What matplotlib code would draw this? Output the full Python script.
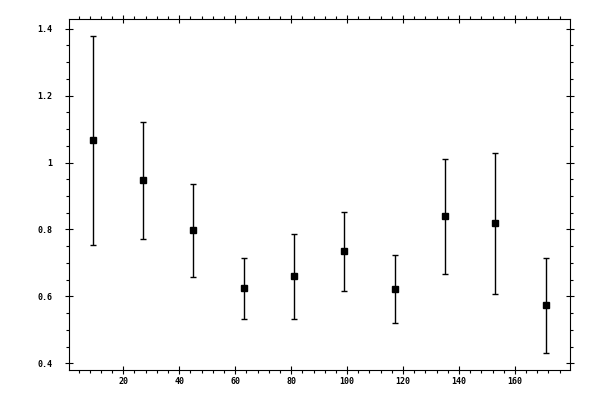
import matplotlib
matplotlib.use("Agg")
import matplotlib.pyplot as plt
from matplotlib.ticker import MultipleLocator, FuncFormatter

x_centers = [9, 27, 45, 63, 81, 99, 117, 135, 153, 171]
y_values = [1.067, 0.947, 0.797, 0.624, 0.660, 0.735, 0.621, 0.839, 0.818, 0.573]
y_errors = [0.312, 0.175, 0.140, 0.092, 0.127, 0.118, 0.102, 0.172, 0.211, 0.141]

fig = plt.figure(figsize=(6, 4), dpi=100)
ax = fig.add_axes([0.1155, 0.075, 0.835, 0.8775])

ax.errorbar(x_centers, y_values, yerr=y_errors, fmt='s', color='black',
            markersize=5, elinewidth=1, capsize=2, capthick=1, ecolor='black')

ax.set_xlim(0.7, 179.8)
ax.set_ylim(0.38, 1.429)

ax.xaxis.set_major_locator(MultipleLocator(20))
ax.xaxis.set_minor_locator(MultipleLocator(4))
ax.yaxis.set_major_locator(MultipleLocator(0.2))
ax.yaxis.set_minor_locator(MultipleLocator(0.05))
ax.yaxis.set_major_formatter(FuncFormatter(lambda v, p: '%g' % round(v, 2)))
ax.xaxis.set_major_formatter(FuncFormatter(lambda v, p: '' if v <= 0 or v >= 180 else '%g' % v))

ax.tick_params(which='major', direction='inout', length=6, width=0.8,
               top=True, right=True, labelsize=6)
ax.tick_params(which='minor', direction='out', length=2.5, width=0.8,
               top=True, right=True)
ax.tick_params(axis='y', which='major', pad=9)
ax.tick_params(axis='x', which='major', pad=2)
for lab in ax.get_xticklabels() + ax.get_yticklabels():
    lab.set_family('DejaVu Sans Mono')
    lab.set_fontweight('bold')
for s in ax.spines.values():
    s.set_linewidth(0.8)

fig.savefig('out.png', dpi=100)
